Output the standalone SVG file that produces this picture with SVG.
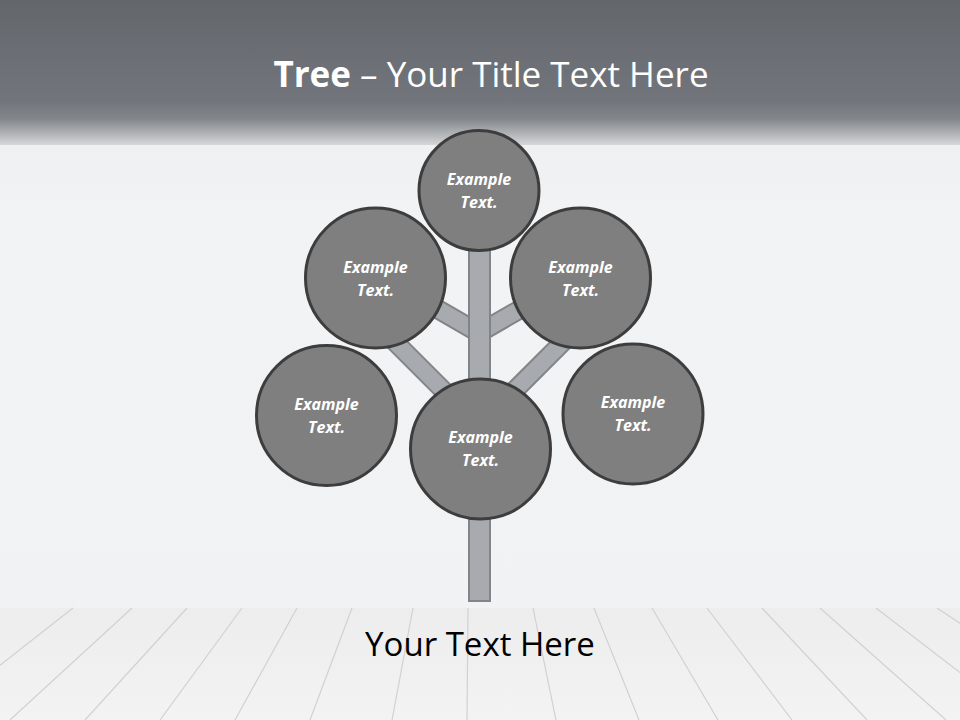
<svg xmlns="http://www.w3.org/2000/svg" width="960" height="720" viewBox="0 0 960 720">
  <defs>
    <linearGradient id="hdr" x1="0" y1="0" x2="0" y2="1">
      <stop offset="0" stop-color="#63676c"/>
      <stop offset="0.7" stop-color="#72767c"/>
      <stop offset="0.82" stop-color="#83878c"/>
      <stop offset="0.92" stop-color="#b0b3b6"/>
      <stop offset="1" stop-color="#d5d7d9"/>
    </linearGradient>
    <linearGradient id="wall" x1="0" y1="0" x2="0" y2="1">
      <stop offset="0" stop-color="#e9eaec"/>
      <stop offset="0.3" stop-color="#f2f3f5"/>
      <stop offset="1" stop-color="#f1f2f4"/>
    </linearGradient>
    <linearGradient id="floor" x1="0" y1="0" x2="0" y2="1">
      <stop offset="0" stop-color="#ededee"/>
      <stop offset="1" stop-color="#f3f3f3"/>
    </linearGradient>
    <style>
      .node { fill: #7f7f7f; stroke: #3d3d3d; stroke-width: 3; }
      .lbl { font-family: "Open Sans", "Liberation Sans", sans-serif; font-size: 16px; font-weight: bold; font-style: italic; fill: #ffffff; text-anchor: middle; }
      .br-o { stroke: #818589; stroke-width: 20; fill: none; }
      .br-f { stroke: #a7abaf; stroke-width: 16; fill: none; }
      .plank { stroke: #d0d1d2; stroke-width: 1.2; fill: none; }
    </style>
  </defs>

  <!-- background -->
  <rect x="0" y="0" width="960" height="720" fill="url(#wall)"/>
  <rect x="0" y="0" width="960" height="145" fill="url(#hdr)"/>
  <rect x="0" y="608" width="960" height="112" fill="url(#floor)"/>
  <g id="floor-planks">
    <path class="plank" d="M0,608 L-169,720 M73,608 L-70,720 M132,608 L10,720 M187,608 L85,720 M242,608 L160,720 M297,608 L235,720 M352,608 L310,720 M413,608 L392,720 M468,608 L467,720 M533,608 L556,720 M594,608 L639,720 M652,608 L718,720 M707,608 L792,720 M762,608 L867,720 M820,608 L946,720 M876,608 L1022,720 M937,608 L1105,720"/>
  </g>

  <!-- title -->
  <text x="491" y="87" font-family="'Open Sans', 'Liberation Sans', sans-serif" font-size="35" fill="#ffffff" text-anchor="middle"><tspan font-weight="bold">Tree</tspan> – Your Title Text Here</text>

  <!-- connectors: branches and trunk -->
  <g id="connectors">
    <line class="br-o" x1="479" y1="333" x2="415" y2="296"/>
    <line class="br-o" x1="479" y1="333" x2="543" y2="296"/>
    <line class="br-o" x1="479" y1="426" x2="385" y2="332"/>
    <line class="br-o" x1="481" y1="424" x2="575" y2="330"/>
    <line class="br-f" x1="479" y1="333" x2="415" y2="296"/>
    <line class="br-f" x1="479" y1="333" x2="543" y2="296"/>
    <line class="br-f" x1="479" y1="426" x2="385" y2="332"/>
    <line class="br-f" x1="481" y1="424" x2="575" y2="330"/>
    <rect x="469" y="240" width="21" height="361" fill="#a7abaf" stroke="#818589" stroke-width="2"/>
  </g>

  <!-- nodes -->
  <g id="node-top">
    <circle class="node" cx="479" cy="190.5" r="60"/>
    <text class="lbl" x="479" y="185">Example</text>
    <text class="lbl" x="479" y="208">Text.</text>
  </g>
  <g id="node-upper-left">
    <circle class="node" cx="375.5" cy="278" r="70"/>
    <text class="lbl" x="375.5" y="272.5">Example</text>
    <text class="lbl" x="375.5" y="295.5">Text.</text>
  </g>
  <g id="node-upper-right">
    <circle class="node" cx="580.5" cy="278" r="70"/>
    <text class="lbl" x="580.5" y="272.5">Example</text>
    <text class="lbl" x="580.5" y="295.5">Text.</text>
  </g>
  <g id="node-lower-left">
    <circle class="node" cx="326.5" cy="415.5" r="70"/>
    <text class="lbl" x="326.5" y="410">Example</text>
    <text class="lbl" x="326.5" y="433">Text.</text>
  </g>
  <g id="node-center">
    <circle class="node" cx="480.5" cy="449" r="70"/>
    <text class="lbl" x="480.5" y="443">Example</text>
    <text class="lbl" x="480.5" y="466">Text.</text>
  </g>
  <g id="node-lower-right">
    <circle class="node" cx="633" cy="414" r="70"/>
    <text class="lbl" x="633" y="408">Example</text>
    <text class="lbl" x="633" y="431">Text.</text>
  </g>

  <!-- bottom text -->
  <text x="480" y="656" font-family="'Open Sans', 'Liberation Sans', sans-serif" font-size="33" fill="#000000" text-anchor="middle">Your Text Here</text>
</svg>
